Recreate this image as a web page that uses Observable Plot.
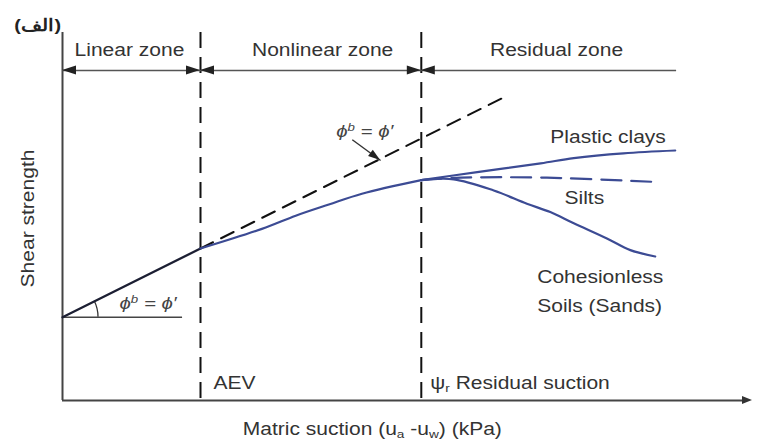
<!DOCTYPE html>
<html>
<head>
<meta charset="utf-8">
<script src="https://cdn.jsdelivr.net/npm/d3@7"></script>
<script src="https://cdn.jsdelivr.net/npm/@observablehq/plot@0.6"></script>
<style>
  body { margin: 0; background: #fff; }
</style>
</head>
<body>
<script>
// Shear strength of an unsaturated soil against matric suction:
// linear, nonlinear and residual zones, with three soil-type branches.

const aev = 20;              // air-entry value
const residualSuction = 52;  // ψr
const topY = 92;
const zoneY = 82.5;
const zoneEnd = 89;
const baseStrength = 20.8;   // intercept at zero suction

// φb = φ' line: solid over the linear zone, dashed beyond the AEV
const linearZone = [{x: 0, y: 20.8}, {x: 20, y: 38}];
const phiExtension = [{x: 20, y: 38}, {x: 64, y: 75.8}];

// nonlinear zone (AEV to residual suction)
const nonlinear = [
  {x: 20, y: 38}, {x: 28.9, y: 42.9}, {x: 33.8, y: 46.2},
  {x: 38.6, y: 49}, {x: 43.4, y: 51.7}, {x: 52, y: 55.1}
];

// residual zone branches
const plasticClays = [
  {x: 52, y: 55.1}, {x: 60.1, y: 57.1}, {x: 69.3, y: 59.3},
  {x: 74.1, y: 60.6}, {x: 81.3, y: 61.8}, {x: 88.8, y: 62.5}
];
const silts = [
  {x: 52, y: 55.1}, {x: 57.7, y: 55.7}, {x: 70.2, y: 55.7}, {x: 86.4, y: 54.6}
];
const sands = [
  {x: 52, y: 55.1}, {x: 56.7, y: 55.3}, {x: 62.5, y: 52.5}, {x: 67.3, y: 49.2},
  {x: 70.7, y: 47.1}, {x: 74.1, y: 44.3}, {x: 78.9, y: 40.5}, {x: 82.3, y: 37.6},
  {x: 85.9, y: 36}
];

// zone captions above the dimension line
const zoneLabels = [
  {text: "Linear zone", x: 9.7},
  {text: "Nonlinear zone", x: 37.7},
  {text: "Residual zone", x: 71.6}
];

// branch captions (baseline positions)
const branchLabels = [
  {text: "Plastic clays", x: 70.7, y: 64.3},
  {text: "Silts", x: 72.75, y: 49.25},
  {text: "Cohesionless", x: 68.8, y: 29.3},
  {text: "Soils (Sands)", x: 68.8, y: 22.1}
];

// suction markers on the x axis
const suctionLabels = [
  {text: "AEV", x: 21.9, y: 3},
  {text: "ψ_r Residual suction", x: 53.3, y: 3}
];

// φb = φ' annotations
const phiLabels = [
  {text: "ϕ^b = ϕ′", x: 12.4, y: 23},
  {text: "ϕ^b = ϕ′", x: 43.8, y: 66}
];
const pointer = [{x1: 42, y1: 65.2, x2: 46.1, y2: 60}];

// filled arrowheads: tip and the point they come from
const zoneHeads = [
  {tip: [0, zoneY], from: [aev, zoneY]},
  {tip: [aev, zoneY], from: [0, zoneY]},
  {tip: [aev, zoneY], from: [residualSuction, zoneY]},
  {tip: [residualSuction, zoneY], from: [aev, zoneY]},
  {tip: [residualSuction, zoneY], from: [zoneEnd, zoneY]}
];
const axisHead = [{tip: [100, 0], from: [0, 0]}];
const pointerHead = [{tip: [pointer[0].x2, pointer[0].y2], from: [pointer[0].x1, pointer[0].y1]}];

const ink = "#333";
const blue = "#3c4b94";

function arrowHeads(heads, len, half, fill) {
  return (index, scales) => {
    const g = d3.create("svg:g").attr("fill", fill);
    for (const h of heads) {
      const tx = scales.x(h.tip[0]), ty = scales.y(h.tip[1]);
      const fx = scales.x(h.from[0]), fy = scales.y(h.from[1]);
      const d = Math.hypot(tx - fx, ty - fy);
      const ux = (tx - fx) / d, uy = (ty - fy) / d;
      const bx = tx - ux * len, by = ty - uy * len;
      g.append("path").attr("d",
        `M${tx},${ty}L${bx - uy * half},${by + ux * half}L${bx + uy * half},${by - ux * half}Z`);
    }
    return g.node();
  };
}

// angle arc between the horizontal and the φb line
function angleArc(radius) {
  return (index, scales) => {
    const cx = scales.x(linearZone[0].x), cy = scales.y(linearZone[0].y);
    const px = scales.x(linearZone[1].x), py = scales.y(linearZone[1].y);
    const a = Math.atan2(py - cy, px - cx);
    return d3.create("svg:path")
      .attr("fill", "none").attr("stroke", ink).attr("stroke-width", 1.3)
      .attr("d", `M${cx + radius},${cy}A${radius},${radius} 0 0 0 ${cx + radius * Math.cos(a)},${cy + radius * Math.sin(a)}`)
      .node();
  };
}

const font = "Liberation Sans, Arial, sans-serif";

const chart = Plot.plot({
  width: 757,
  height: 444,
  marginLeft: 62,
  marginRight: 5,
  marginTop: 32,
  marginBottom: 44,
  x: {domain: [0, 100], axis: null},
  y: {domain: [0, topY], axis: null},
  style: {fontFamily: font, fontSize: "17.5px", color: ink, background: "#fff"},
  marks: [
    // axes
    Plot.ruleX([0], {y1: 0, y2: topY, stroke: "#444", strokeWidth: 2}),
    Plot.ruleY([0], {x1: 0, x2: 99, stroke: "#444", strokeWidth: 2}),
    arrowHeads(axisHead, 10, 4, "#333"),

    // zone boundaries
    Plot.ruleX([aev, residualSuction], {y1: topY, y2: 0, stroke: "#111", strokeWidth: 2, strokeDasharray: "16,9"}),

    // zone dimension line
    Plot.ruleY([zoneY], {x1: 0, x2: zoneEnd, stroke: "#555", strokeWidth: 1.5}),
    arrowHeads(zoneHeads, 14, 4.5, "#222"),
    Plot.text(zoneLabels, {x: "x", y: 86.25, text: "text", lineAnchor: "bottom", fill: ink, fontSize: 17.5}),

    // horizontal reference and angle
    Plot.ruleY([baseStrength], {x1: 0, x2: 17.4, stroke: "#444", strokeWidth: 1.6}),
    angleArc(36),

    // φb = φ' line
    Plot.line(phiExtension, {x: "x", y: "y", stroke: "#111", strokeWidth: 2, strokeDasharray: "14,9"}),
    Plot.line(linearZone, {x: "x", y: "y", stroke: "#1c1f33", strokeWidth: 2.3}),

    // shear strength envelope
    Plot.line(nonlinear, {x: "x", y: "y", curve: "catmull-rom", stroke: blue, strokeWidth: 2.2}),
    Plot.line(plasticClays, {x: "x", y: "y", curve: "catmull-rom", stroke: blue, strokeWidth: 2.2}),
    Plot.line(sands, {x: "x", y: "y", curve: "catmull-rom", stroke: blue, strokeWidth: 2.2}),
    Plot.line(silts, {x: "x", y: "y", curve: "catmull-rom", stroke: blue, strokeWidth: 2.2, strokeDasharray: "20,10"}),

    // annotations
    Plot.link(pointer, {x1: "x1", y1: "y1", x2: "x2", y2: "y2", stroke: "#333", strokeWidth: 1.4}),
    arrowHeads(pointerHead, 12, 4, "#222"),
    Plot.text(phiLabels, {x: "x", y: "y", text: "text", lineAnchor: "bottom", fill: "#444", fontSize: 17, fontStyle: "italic"}),
    Plot.text(branchLabels, {x: "x", y: "y", text: "text", textAnchor: "start", lineAnchor: "bottom", fill: ink, fontSize: 17.5}),
    Plot.text(suctionLabels, {x: "x", y: "y", text: "text", textAnchor: "start", lineAnchor: "bottom", fill: ink, fontSize: 17.5}),

    // axis titles
    Plot.text(["Shear strength"], {x: -4.2, y: 45.5, text: d => d, rotate: -90, lineAnchor: "bottom", fill: ink, fontSize: 17.5}),
    Plot.text(["Matric suction (u_a -u_w) (kPa)"], {x: 44.9, y: -8.7, text: d => d, lineAnchor: "bottom", fill: ink, fontSize: 17.5}),
    Plot.text(["(الف)"], {x: -3.6, y: 93.75, text: d => d, fill: "#222", fontSize: 16.5, fontWeight: "bold"})
  ]
});

document.body.append(chart);

// sub- and superscripts written as _x and ^x
const SVGNS = "http://www.w3.org/2000/svg";
chart.querySelectorAll("text").forEach(t => {
  const s = t.textContent;
  if (!/[_^]/.test(s)) return;
  t.textContent = "";
  for (const part of s.split(/([_^].)/)) {
    if (!part) continue;
    const span = document.createElementNS(SVGNS, "tspan");
    if ((part[0] === "_" || part[0] === "^") && part.length === 2) {
      span.textContent = part[1];
      span.setAttribute("baseline-shift", part[0] === "_" ? "-3" : "super");
      span.setAttribute("font-size", "65%");
    } else {
      span.textContent = part;
    }
    t.append(span);
  }
});

// the lettering is set slightly wide
chart.querySelectorAll("text").forEach(t => {
  const w = t.getComputedTextLength();
  t.setAttribute("textLength", (w * 1.2).toFixed(1));
  t.setAttribute("lengthAdjust", "spacingAndGlyphs");
});
</script>
</body>
</html>
